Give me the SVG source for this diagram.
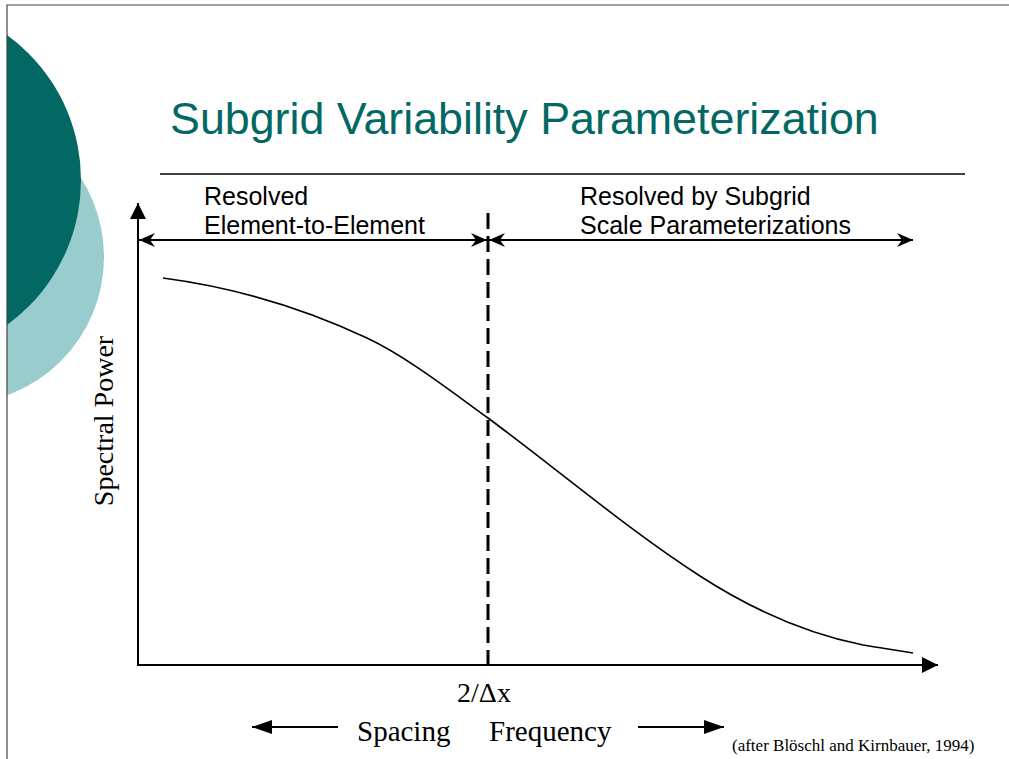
<svg xmlns="http://www.w3.org/2000/svg" width="1009" height="759" viewBox="0 0 1009 759">
<style>
.ax{stroke:#000;stroke-width:2;fill:none}
.sans{font-family:"Liberation Sans",Arial,sans-serif;fill:#000}
.serif{font-family:"Liberation Serif","Times New Roman",serif;fill:#000}
</style>
<defs>
<marker id="tri" viewBox="0 0 16 16" refX="16" refY="8" markerWidth="16" markerHeight="16" markerUnits="userSpaceOnUse" orient="auto">
<path d="M0,0 L16,8 L0,16 Z" fill="#000"/>
</marker>
<marker id="tri2" viewBox="0 0 20 14" refX="20" refY="7" markerWidth="20" markerHeight="14" markerUnits="userSpaceOnUse" orient="auto">
<path d="M0,0 L20,7 L0,14 Z" fill="#000"/>
</marker>
<marker id="stl" viewBox="0 0 16 16" refX="16" refY="8" markerWidth="16" markerHeight="16" markerUnits="userSpaceOnUse" orient="auto-start-reverse">
<path d="M0,1 L16,8 L0,15 L5,8 Z" fill="#000"/>
</marker>
<clipPath id="pg"><rect x="7" y="5" width="1002" height="754"/></clipPath>
</defs>
<rect width="1009" height="759" fill="#fff"/>
<g id="decor" clip-path="url(#pg)">
<circle cx="-43" cy="257" r="147" fill="#99CCCC"/>
<circle cx="-98" cy="180" r="179" fill="#036864"/>
</g>
<path d="M7,759 L7,5 L1009,5" stroke="#444" stroke-width="1.2" fill="none"/>
<g id="title">
<text x="170" y="134" font-family="'Liberation Sans',Arial,sans-serif" font-size="44.8" fill="#036864">Subgrid Variability Parameterization</text>
<line x1="160" y1="174" x2="965" y2="174" stroke="#000" stroke-width="1.5"/>
</g>
<g id="connectors">
<line class="ax" x1="138" y1="666" x2="138" y2="203" marker-end="url(#tri)"/>
<line class="ax" x1="137" y1="665" x2="938" y2="665" marker-end="url(#tri)"/>
<line x1="488" y1="213" x2="488" y2="665" stroke="#000" stroke-width="3" stroke-dasharray="16,7"/>
<line class="ax" x1="139" y1="240" x2="487" y2="240" marker-start="url(#stl)" marker-end="url(#stl)"/>
<line class="ax" x1="489" y1="240" x2="913" y2="240" marker-start="url(#stl)" marker-end="url(#stl)"/>
<line class="ax" x1="338" y1="727" x2="252" y2="727" marker-end="url(#tri2)"/>
<line class="ax" x1="638" y1="727" x2="724" y2="727" marker-end="url(#tri2)"/>
<path d="M163,278 C231,287 299,306 367,338 C407,357 448,389 488,418 C558,470 630,531 700,576 C754,611 809,634 863,645 C880,648 896,650 913,653" stroke="#000" stroke-width="1.6" fill="none"/>
</g>
<g id="label-resolved">
<text class="sans" x="204" y="205" font-size="25">Resolved</text>
<text class="sans" x="204" y="234" font-size="25">Element-to-Element</text>
</g>
<g id="label-subgrid">
<text class="sans" x="580" y="205" font-size="25">Resolved by Subgrid</text>
<text class="sans" x="580" y="234" font-size="25">Scale Parameterizations</text>
</g>
<g id="axis-labels">
<text class="serif" font-size="28" text-anchor="middle" transform="translate(113,421) rotate(-90)">Spectral Power</text>
<text class="serif" x="484" y="702" font-size="28" text-anchor="middle">2/Δx</text>
<text class="serif" x="357" y="741" font-size="29">Spacing</text>
<text class="serif" x="489" y="741" font-size="29">Frequency</text>
<text class="serif" x="732" y="751" font-size="17">(after Blöschl and Kirnbauer, 1994)</text>
</g>
</svg>
